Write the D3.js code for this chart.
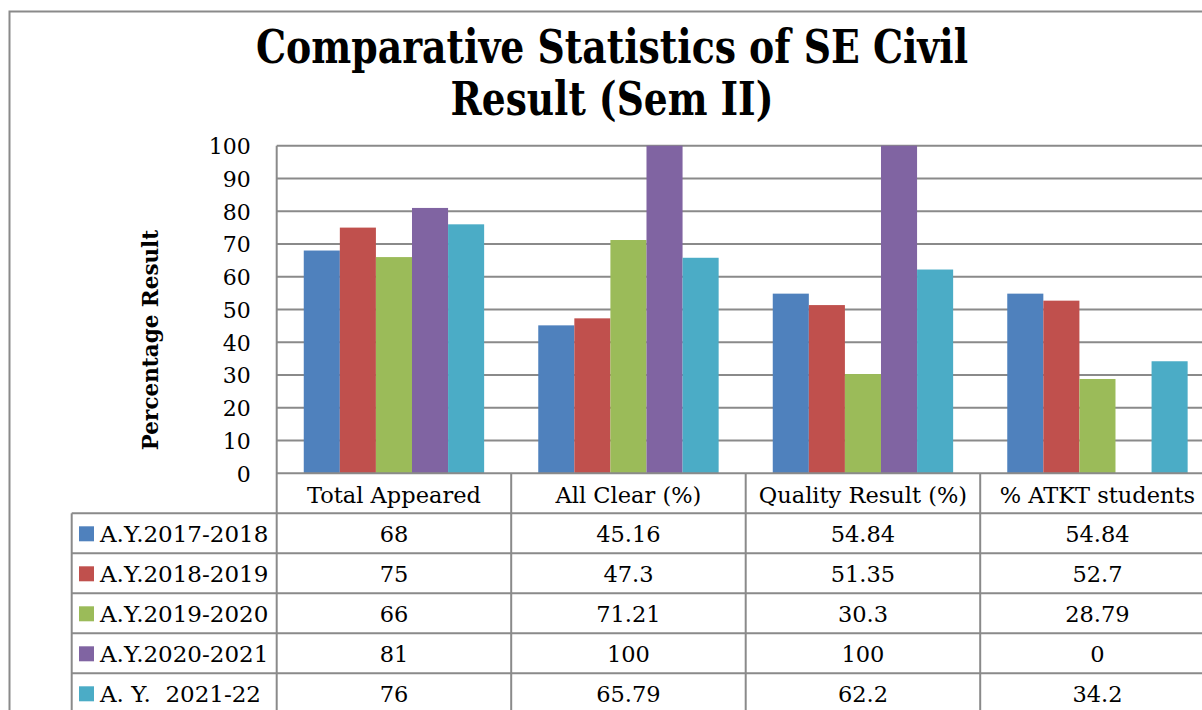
<!DOCTYPE html>
<html><head><meta charset="utf-8">
<script src="https://cdn.jsdelivr.net/npm/d3@7"></script>
<style>
html,body{margin:0;padding:0;background:#fff;overflow:hidden;}
svg{display:block;}
text{font-family:"DejaVu Serif",serif;fill:#000;}
</style></head><body>
<svg id="chart" width="1202" height="710"></svg>
<script>
const categories = ["Total Appeared", "All Clear (%)", "Quality Result (%)", "% ATKT students"];
const seriesNames = ["A.Y.2017-2018", "A.Y.2018-2019", "A.Y.2019-2020", "A.Y.2020-2021", "A. Y.  2021-22"];
const ay2017 = [68, 45.16, 54.84, 54.84];
const ay2018 = [75, 47.3, 51.35, 52.7];
const ay2019 = [66, 71.21, 30.3, 28.79];
const ay2020 = [81, 100, 100, 0];
const ay2021 = [76, 65.79, 62.2, 34.2];
const yTicks = [0, 10, 20, 30, 40, 50, 60, 70, 80, 90, 100];
const colors = ["#4F81BD", "#C0504D", "#9BBB59", "#8064A2", "#4BACC6"];
const titleLines = ["Comparative Statistics of SE Civil", "Result (Sem II)"];
const yTitle = "Percentage Result";

const series = [ay2017, ay2018, ay2019, ay2020, ay2021];

const svg = d3.select("#chart");
const gridColor = "#8a8a8a";
const fs = "22.5px";

const plotLeft = 276.7, plotTop = 145.7, plotBottom = 473.3, catW = 234.5;
const plotRight = plotLeft + catW * categories.length;
const rowH = 40;

// outer border
svg.append("rect").attr("x", 9.5).attr("y", 11.5).attr("width", 1300).attr("height", 800)
  .attr("fill", "none").attr("stroke", gridColor).attr("stroke-width", 2);

// title
const titleWidths = [712, 323];
titleLines.forEach((l, i) => {
  svg.append("text").attr("text-anchor", "middle").attr("x", 612).attr("y", 63 + i * 52)
    .attr("textLength", titleWidths[i]).attr("lengthAdjust", "spacingAndGlyphs")
    .style("font-family", "'DejaVu Serif Condensed','DejaVu Serif',serif")
    .style("font-weight", "bold").style("font-size", "46px").text(l);
});

const x = d3.scaleBand().domain(categories).range([plotLeft, plotRight]).padding(0);
const xs = d3.scaleBand().domain(d3.range(series.length)).range([0, x.bandwidth()]).paddingInner(0).paddingOuter(0.75);
const y = d3.scaleLinear().domain([0, 100]).range([plotBottom, plotTop]);

// gridlines
svg.append("g").selectAll("line").data(yTicks.filter(t => t > 0)).join("line")
  .attr("x1", plotLeft).attr("x2", plotRight)
  .attr("y1", d => y(d)).attr("y2", d => y(d))
  .attr("stroke", gridColor).attr("stroke-width", 2);

// bars
series.forEach((vals, si) => {
  svg.append("g").selectAll("rect").data(vals.map((v, ci) => ({v, c: categories[ci]}))).join("rect")
    .attr("x", d => x(d.c) + xs(si))
    .attr("width", xs.bandwidth())
    .attr("y", d => y(d.v))
    .attr("height", d => y(0) - y(d.v))
    .attr("fill", colors[si]);
});

// y axis
const yAxis = d3.axisLeft(y).tickValues(yTicks).tickSize(0).tickPadding(26);
const ya = svg.append("g").attr("transform", `translate(${plotLeft},0)`).call(yAxis);
ya.select(".domain").remove();
ya.selectAll("text").style("font-family", "'DejaVu Serif',serif").style("font-size", "22px").attr("dy", "0.36em");
svg.append("line").attr("x1", plotLeft).attr("x2", plotLeft).attr("y1", plotTop).attr("y2", plotBottom + rowH * 6)
  .attr("stroke", gridColor).attr("stroke-width", 2);

// y title
svg.append("text").attr("transform", `translate(158,340) rotate(-90)`).attr("text-anchor", "middle")
  .style("font-weight", "bold").style("font-size", "21.5px").text(yTitle);

// data table
const tableTop = plotBottom;
const tableLeft = 71.7;
svg.append("line").attr("x1", plotLeft).attr("x2", plotRight).attr("y1", tableTop).attr("y2", tableTop)
  .attr("stroke", gridColor).attr("stroke-width", 2);
for (let r = 1; r <= series.length + 1; r++) {
  svg.append("line").attr("x1", tableLeft).attr("x2", plotRight)
    .attr("y1", tableTop + r * rowH).attr("y2", tableTop + r * rowH)
    .attr("stroke", gridColor).attr("stroke-width", 2);
}
categories.forEach(c => {
  svg.append("line").attr("x1", x(c) + x.bandwidth()).attr("x2", x(c) + x.bandwidth())
    .attr("y1", tableTop).attr("y2", tableTop + rowH * 6).attr("stroke", gridColor).attr("stroke-width", 2);
});
svg.append("line").attr("x1", tableLeft).attr("x2", tableLeft).attr("y1", tableTop + rowH).attr("y2", tableTop + rowH * 6)
  .attr("stroke", gridColor).attr("stroke-width", 2);

// header
svg.append("g").selectAll("text").data(categories).join("text")
  .attr("x", d => x(d) + x.bandwidth() / 2).attr("y", tableTop + 30).attr("text-anchor", "middle")
  .style("font-size", fs).text(d => d);

// rows
series.forEach((vals, si) => {
  const ry = tableTop + rowH * (si + 1);
  svg.append("rect").attr("x", 79).attr("y", ry + 13).attr("width", 15).attr("height", 15).attr("fill", colors[si]);
  svg.append("text").attr("x", 100).attr("y", ry + 29).style("font-size", "23px").attr("xml:space", "preserve")
    .style("white-space", "pre").text(seriesNames[si]);
  svg.append("g").selectAll("text").data(vals).join("text")
    .attr("x", (d, ci) => x(categories[ci]) + x.bandwidth() / 2).attr("y", ry + 29).attr("text-anchor", "middle")
    .style("font-size", fs).text(d => String(d));
});
</script></body></html>
